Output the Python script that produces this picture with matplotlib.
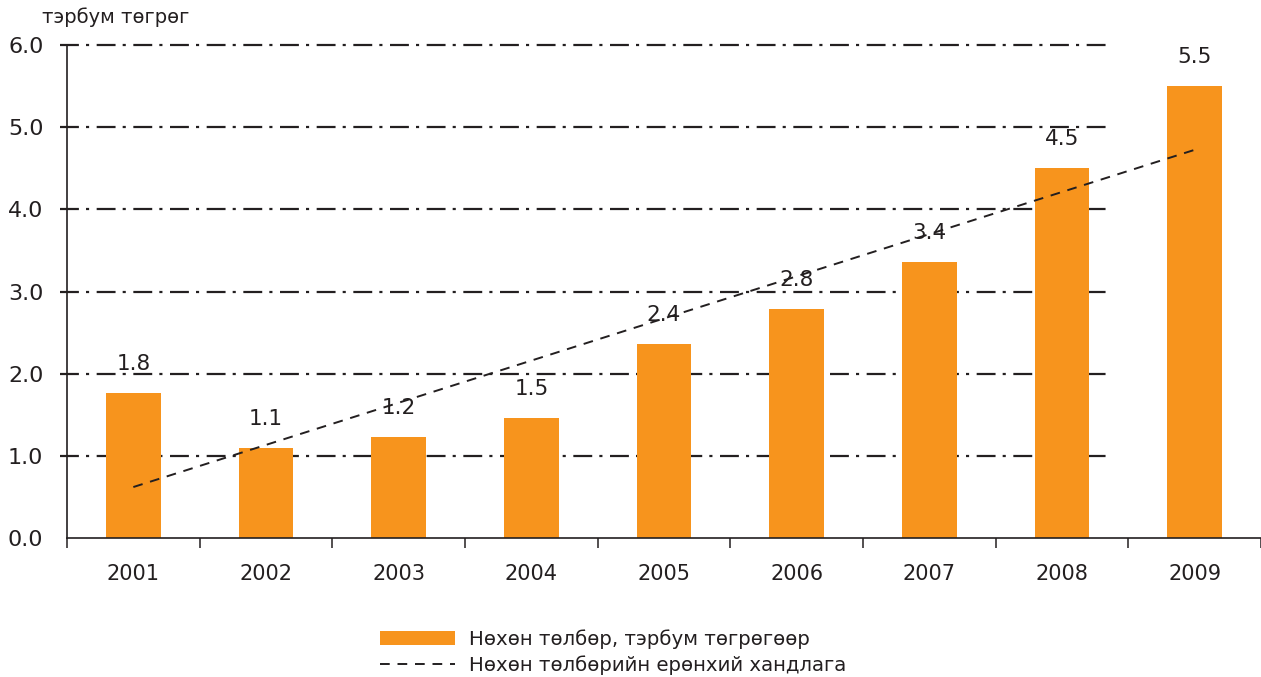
import numpy as np
import matplotlib.pyplot as plt
import matplotlib.transforms as mtransforms

years = ["2001", "2002", "2003", "2004", "2005", "2006", "2007", "2008", "2009"]
payments = [1.76, 1.09, 1.23, 1.46, 2.36, 2.79, 3.36, 4.50, 5.50]
value_labels = ["1.8", "1.1", "1.2", "1.5", "2.4", "2.8", "3.4", "4.5", "5.5"]
yticks = [0.0, 1.0, 2.0, 3.0, 4.0, 5.0, 6.0]

bar_name = "Нөхөн төлбөр, тэрбум төгрөгөөр"
trend_name = "Нөхөн төлбөрийн ерөнхий хандлага"
unit_label = "тэрбум төгрөг"

ORANGE = "#F7941D"
INK = "#231F20"

plt.rcParams["font.family"] = ["DejaVu Sans"]

fig = plt.figure(figsize=(12.61, 6.77), dpi=100)
ax = fig.add_axes([67 / 1261, 139 / 677, 1194 / 1261, 493 / 677])

x = np.arange(len(years))
bars = ax.bar(x, payments, width=0.41, color=ORANGE, zorder=2, label=bar_name)

# linear trend through the bars
k, b = np.polyfit(x + 1, payments, 1)
trend = k * (x + 1) + b
line, = ax.plot(x, trend, color=INK, lw=1.4, ls=(0, (5, 4)), zorder=3, label=trend_name)

# value labels (sit above bars)
for xi, v, lab in zip(x, payments, value_labels):
    ax.annotate(lab, (xi, v), xytext=(0, 21), textcoords="offset points",
                ha="center", va="center", fontsize=15.5, color=INK)

# dash-dot gridlines that stop before the last bar
tr = mtransforms.blended_transform_factory(ax.transAxes, ax.transData)
for yt in yticks[1:]:
    ax.plot([-0.006, 0.873], [yt, yt], transform=tr, color=INK, lw=1.6,
            ls=(0, (8.5, 3.2, 1.4, 3.4)), zorder=1, clip_on=False)

ax.set_xlim(-0.5, 8.48)
ax.set_ylim(0, 6)
ax.set_yticks(yticks)
ax.set_yticklabels([f"{t:.1f}" for t in yticks])
ax.set_xticks(x)
ax.set_xticklabels(years)
ax.set_xticks(np.arange(-0.5, 9, 1.0), minor=True)

ax.tick_params(axis="y", length=0, pad=17, labelsize=16, colors=INK)
ax.tick_params(axis="x", which="major", length=0, pad=19, labelsize=15, colors=INK)
ax.tick_params(axis="x", which="minor", length=7, width=1.1, color=INK)

for s in ["top", "right"]:
    ax.spines[s].set_visible(False)
for s in ["left", "bottom"]:
    ax.spines[s].set_color(INK)
    ax.spines[s].set_linewidth(1.2)

fig.text(42 / 1261, 1 - 17 / 677, unit_label, ha="left", va="center",
         fontsize=14, color=INK)

leg = ax.legend([bars, line], [bar_name, trend_name], loc="upper left",
                bbox_to_anchor=(370 / 1261, 1 - 619 / 677),
                bbox_transform=fig.transFigure, frameon=False, fontsize=14.2,
                handlelength=3.8, handleheight=0.7, handletextpad=0.7,
                labelspacing=0.32, borderpad=0)
for t in leg.get_texts():
    t.set_color(INK)

fig.savefig("out.png", dpi=100)
